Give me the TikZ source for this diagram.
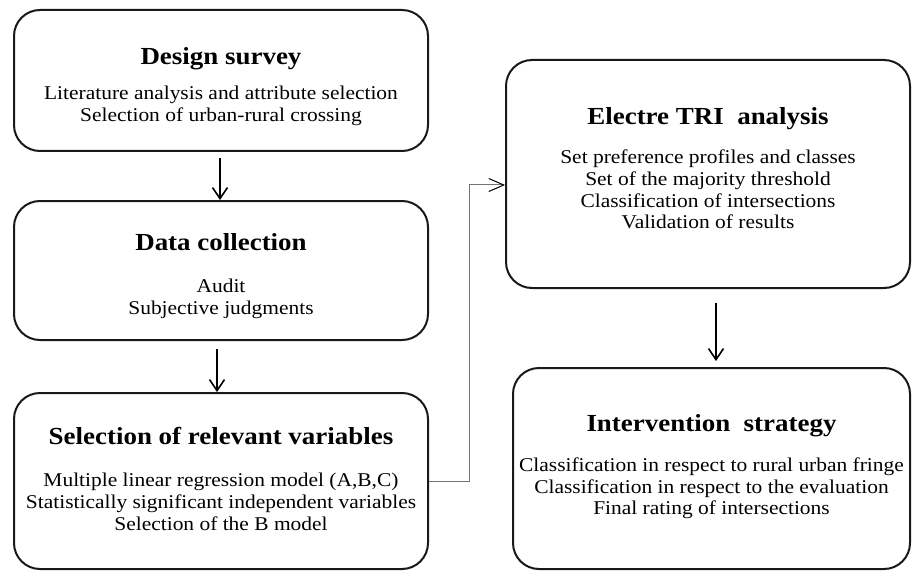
\documentclass[tikz,border=0pt]{standalone}
\usepackage{fontspec}
\setmainfont{Liberation Serif}[FakeStretch=1.1]
\usetikzlibrary{arrows.meta}
\def\titlesize{\fontsize{24.5}{28}\selectfont\bfseries}
\def\bodysize{\fontsize{19.5}{21.7}\selectfont}

\begin{document}
\begin{tikzpicture}[x=1pt,y=-1pt,
  stage/.style={draw=black!90,line width=2pt,rounded corners=26pt},
  blurb/.style={align=center,inner sep=0pt,font=\bodysize},
  flow/.style={line width=1.6pt,-{Straight Barb[length=11pt,width=15pt]}},
  feed/.style={line width=1pt,black!55,-{Straight Barb[length=15pt,width=13pt,black]}}]
\useasboundingbox (0,0) rectangle (912,572);
% left column
\node[stage,minimum width=414,minimum height=141] (design) at (221,80.5) {};
\node[blurb,yshift=-6pt] (design-txt) at (design)
  {{\titlesize Design survey}\\[14pt]
   Literature analysis and attribute selection\\
   Selection of urban-rural crossing};
\node[stage,minimum width=414,minimum height=139] (data) at (221,270.5) {};
\node[blurb,yshift=-5.5pt] (data-txt) at (data)
  {{\titlesize Data collection}\\[21pt]
   Audit\\
   Subjective judgments};
\node[stage,minimum width=414,minimum height=176] (select) at (221,481) {};
\node[blurb,yshift=2pt] (select-txt) at (select)
  {{\titlesize Selection of relevant variables}\\[20pt]
   Multiple linear regression model (A,B,C)\\
   Statistically significant independent variables\\
   Selection of the B model};
% right column
\node[stage,minimum width=404,minimum height=228] (electre) at (708,174) {};
\node[blurb,yshift=5.5pt] (electre-txt) at (electre)
  {{\titlesize Electre TRI\ \ analysis}\\[17pt]
   Set preference profiles and classes\\
   Set of the majority threshold\\
   Classification of intersections\\
   Validation of results};
\node[stage,minimum width=397,minimum height=201] (interv) at (711.5,468.5) {};
\node[blurb,yshift=1.5pt] (interv-txt) at (interv)
  {{\titlesize Intervention\ \ strategy}\\[18pt]
   Classification in respect to rural urban fringe\\
   Classification in respect to the evaluation\\
   Final rating of intersections};
% connectors
\draw[flow,shorten <=6pt] ([xshift=-1pt]design.south) -- ([xshift=-1pt]design.south |- data.north);
\draw[flow,shorten <=8pt] ([xshift=-4pt]data.south) -- ([xshift=-4pt]data.south |- select.north);
\draw[feed] (select.east) -- ++(40,0) |- ([yshift=-11pt]electre.west);
\draw[flow,shorten <=14pt,shorten >=6pt] ([xshift=8pt]electre.south) -- ([xshift=8pt]electre.south |- interv.north);
\end{tikzpicture}
\end{document}
